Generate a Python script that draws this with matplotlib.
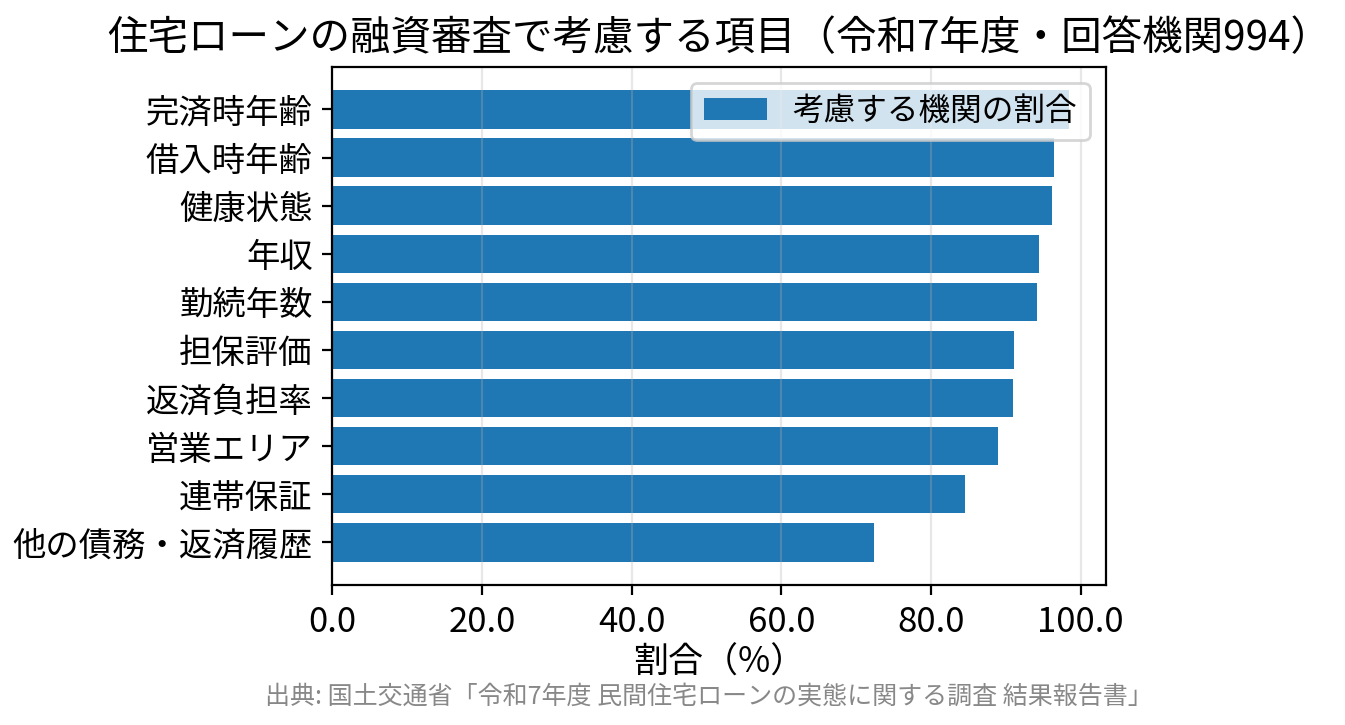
import numpy as np
import matplotlib
matplotlib.use('Agg')
import matplotlib.pyplot as plt
from matplotlib.ticker import FormatStrFormatter

plt.rcParams['font.family'] = ['Noto Sans CJK JP', 'DejaVu Sans']

# data
items = ['完済時年齢', '借入時年齢', '健康状態', '年収', '勤続年数',
         '担保評価', '返済負担率', '営業エリア', '連帯保証', '他の債務・返済履歴']
ratio = [98.4, 96.4, 96.2, 94.4, 94.1, 91.1, 90.9, 89.0, 84.6, 72.4]

title = '住宅ローンの融資審査で考慮する項目（令和7年度・回答機関994）'
source = '出典: 国土交通省「令和7年度 民間住宅ローンの実態に関する調査 結果報告書」'

fig = plt.figure(figsize=(6.725, 3.625), dpi=200)
ax = fig.add_axes([0.247, 0.193, 0.575, 0.715])

y = np.arange(len(items))[::-1]
ax.barh(y, ratio, height=0.8, color='#1f77b4', label='考慮する機関の割合')
ax.set_yticks(y)
ax.set_yticklabels(items, fontsize=12)
ax.tick_params(axis='x', labelsize=12.5)
ax.xaxis.set_major_formatter(FormatStrFormatter('%.1f'))
ax.set_xlabel('割合（%）', fontsize=12.6, labelpad=2)
ax.set_title(title, fontsize=14.6)
ax.grid(axis='x', alpha=0.3)
ax.legend(loc='upper right', fontsize=11.4)

fig.text(0.527, 0.039, source, ha='center', va='center', fontsize=9, color='#888888')

fig.savefig('out.png', dpi=200)
